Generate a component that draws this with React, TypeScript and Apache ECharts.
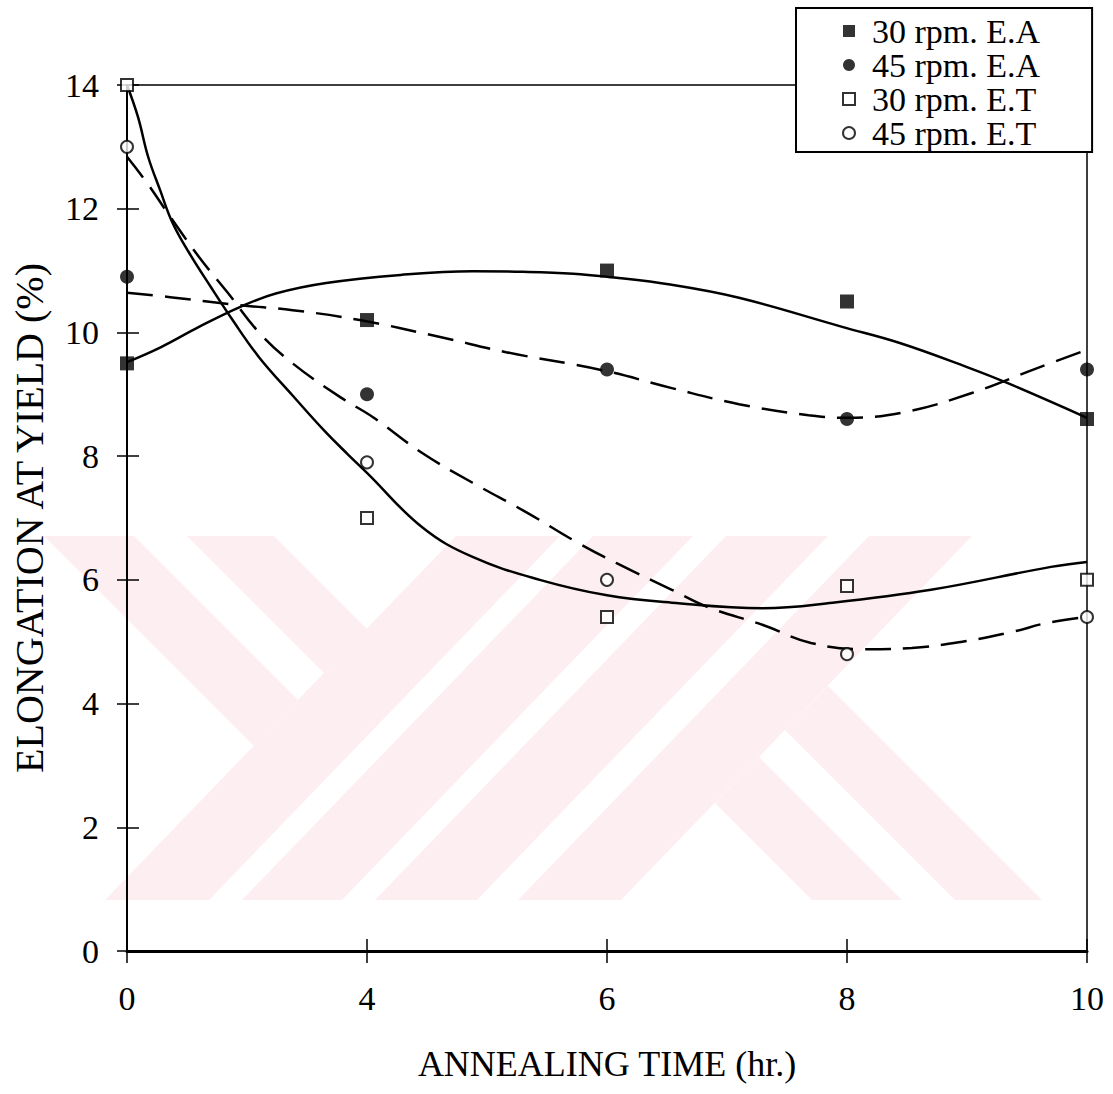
import React, { useEffect, useRef } from "react";
import * as echarts from "echarts";

// ---- data ----
const xLabels = ["0", "4", "6", "8", "10"]; // annealing time (hr.), equally spaced categories
const seriesNames = ["30 rpm. E.A", "45 rpm. E.A", "30 rpm. E.T", "45 rpm. E.T"];
const ea30 = [9.5, 10.2, 11.0, 10.5, 8.6];
const ea45 = [10.9, 9.0, 9.4, 8.6, 9.4];
const et30 = [14.0, 7.0, 5.4, 5.9, 6.0];
const et45 = [13.0, 7.9, 6.0, 4.8, 5.4];

// trend curves: [category position, value]
const trendEa30 = [
  [0, 9.52], [0.14, 9.76], [0.3, 10.09], [0.47, 10.41], [0.62, 10.63], [0.83, 10.8],
  [1.14, 10.93], [1.44, 10.99], [1.65, 10.98], [1.86, 10.95], [2.0, 10.9], [2.27, 10.77],
  [2.55, 10.56], [2.98, 10.09], [3.22, 9.83], [3.5, 9.44], [3.67, 9.18], [4.0, 8.62],
];
const trendEa45 = [
  [0, 10.64], [0.18, 10.57], [0.47, 10.44], [0.69, 10.36], [0.97, 10.2], [1.3, 9.93],
  [1.58, 9.68], [1.98, 9.39], [2.27, 9.1], [2.55, 8.84], [2.84, 8.66], [3.0, 8.62],
  [3.24, 8.71], [3.52, 9.02], [3.79, 9.42], [4.0, 9.72],
];
const trendEt30 = [
  [0, 14.0], [0.046, 13.48], [0.088, 12.84], [0.138, 12.3], [0.19, 11.77], [0.26, 11.28],
  [0.35, 10.73], [0.44, 10.2], [0.55, 9.6], [0.69, 8.98], [0.82, 8.42], [0.92, 8.03],
  [1.0, 7.73], [1.23, 6.85], [1.44, 6.37], [1.72, 6.0], [2.0, 5.75], [2.27, 5.63],
  [2.65, 5.54], [2.94, 5.63], [3.35, 5.84], [3.85, 6.21], [4.0, 6.29],
];
const trendEt45 = [
  [0, 12.84], [0.083, 12.42], [0.18, 11.87], [0.3, 11.22], [0.42, 10.64], [0.55, 10.0],
  [0.69, 9.5], [0.89, 8.95], [1.025, 8.63], [1.23, 8.05], [1.44, 7.57], [1.67, 7.08],
  [1.86, 6.64], [2.04, 6.27], [2.27, 5.84], [2.42, 5.56], [2.65, 5.27], [2.85, 4.98],
  [3.07, 4.88], [3.27, 4.9], [3.48, 5.0], [3.69, 5.16], [3.83, 5.3], [4.0, 5.4],
];

// ---- background watermark (decoration) ----
const WM_COLOR = "#fdeef1";
const watermarkShapes = [
  [[44, 536], [134, 536], [298, 700], [254, 746]],
  [[187, 536], [274, 536], [367, 629], [324, 673]],
  [[456, 536], [560, 536], [209, 900], [105, 900]],
  [[593, 536], [693, 536], [342, 900], [242, 900]],
  [[726, 536], [828, 536], [477, 900], [375, 900]],
  [[869, 536], [972, 536], [621, 900], [518, 900]],
  [[715, 803], [759, 757], [902, 900], [812, 900]],
  [[785, 730], [828, 686], [1042, 900], [955, 900]],
];

const FONT = "Liberation Serif";

export default function App() {
  const ref = useRef<HTMLDivElement>(null);

  useEffect(() => {
    if (!ref.current) return;
    const chart = echarts.init(ref.current, null, { renderer: "svg" });

    const toPts = (arr: number[]) => arr.map((v, i) => [i, v]);
    const markerDefs = [
      { name: seriesNames[0], data: ea30, symbol: "rect", size: 14 },
      { name: seriesNames[1], data: ea45, symbol: "circle", size: 14 },
      { name: seriesNames[2], data: et30, symbol: "emptyRect", size: 12 },
      { name: seriesNames[3], data: et45, symbol: "emptyCircle", size: 12 },
    ];
    const trendDefs = [
      { data: trendEa30, dashed: false },
      { data: trendEa45, dashed: true },
      { data: trendEt30, dashed: false },
      { data: trendEt45, dashed: true },
    ];

    const axisFont = { fontFamily: FONT, color: "#000" };

    chart.setOption({
      animation: false,
      backgroundColor: "#fff",
      graphic: watermarkShapes.map((pts) => ({
        type: "polygon",
        z: -10,
        silent: true,
        shape: { points: pts },
        style: { fill: WM_COLOR },
      })),
      grid: {
        left: 127,
        top: 85,
        width: 960,
        height: 866,
        show: true,
        borderColor: "#000",
        borderWidth: 1.5,
        backgroundColor: "transparent",
      },
      legend: {
        show: true,
        orient: "vertical",
        left: 796,
        top: 8,
        padding: [6, 52, 2, 46],
        itemGap: 0,
        itemWidth: 12,
        itemHeight: 12,
        backgroundColor: "#fff",
        borderColor: "#000",
        borderWidth: 2,
        borderRadius: 0,
        z: 20,
        textStyle: { ...axisFont, fontSize: 34, lineHeight: 33, padding: [0, 0, 0, 12] },
        data: [
          { name: seriesNames[0], icon: "rect" },
          { name: seriesNames[1], icon: "circle" },
          { name: seriesNames[2], icon: "emptyRect" },
          { name: seriesNames[3], icon: "emptyCircle" },
        ],
      },
      xAxis: [
        {
          type: "value",
          min: 0,
          max: 4,
          interval: 1,
          position: "bottom",
          axisLine: { show: true, onZero: false, lineStyle: { color: "#000", width: 3 } },
          axisTick: { show: true, length: 12, lineStyle: { color: "#000", width: 1.5 } },
          axisLabel: {
            ...axisFont,
            fontSize: 34,
            margin: 30,
            formatter: (v: number) => xLabels[Math.round(v)] ?? "",
          },
          splitLine: { show: false },
          name: "ANNEALING TIME (hr.)",
          nameLocation: "middle",
          nameGap: 95,
          nameTextStyle: { ...axisFont, fontSize: 36 },
        },
        {
          type: "value",
          min: 0,
          max: 4,
          interval: 1,
          position: "bottom",
          axisLine: { show: false, onZero: false },
          axisTick: { show: true, inside: true, length: 12, lineStyle: { color: "#000", width: 1.5 } },
          axisLabel: { show: false },
          splitLine: { show: false },
        },
      ],
      yAxis: [
        {
          type: "value",
          min: 0,
          max: 14,
          interval: 2,
          position: "left",
          axisLine: { show: true, onZero: false, lineStyle: { color: "#000", width: 2 } },
          axisTick: { show: true, length: 10, lineStyle: { color: "#000", width: 1.5 } },
          axisLabel: { ...axisFont, fontSize: 34, margin: 28 },
          splitLine: { show: false },
          name: "ELONGATION AT YIELD (%)",
          nameLocation: "middle",
          nameGap: 78,
          nameTextStyle: { ...axisFont, fontSize: 40 },
        },
        {
          type: "value",
          min: 0,
          max: 14,
          interval: 2,
          position: "left",
          axisLine: { show: false, onZero: false },
          axisTick: { show: true, inside: true, length: 12, lineStyle: { color: "#000", width: 1.5 } },
          axisLabel: { show: false },
          splitLine: { show: false },
        },
      ],
      series: [
        ...trendDefs.map((t, k) => ({
          type: "line",
          name: "trend" + k,
          data: t.data,
          xAxisIndex: 0,
          yAxisIndex: 0,
          showSymbol: false,
          symbol: "none",
          smooth: 0.4,
          silent: true,
          z: 3,
          lineStyle: { color: "#000", width: 2.5, type: t.dashed ? [26, 12] : "solid" },
        })),
        ...markerDefs.map((m) => ({
          type: "scatter",
          name: m.name,
          data: toPts(m.data),
          xAxisIndex: 0,
          yAxisIndex: 0,
          symbol: m.symbol,
          symbolSize: m.size,
          z: 5,
          itemStyle: { color: "#000", borderColor: "#000", borderWidth: m.symbol.startsWith("empty") ? 2 : 0 },
        })),
      ],
    });

    return () => chart.dispose();
  }, []);

  return (
    <div
      ref={ref}
      style={{ position: "absolute", left: 0, top: 0, width: 1113, height: 1094, background: "#fff" }}
    />
  );
}
